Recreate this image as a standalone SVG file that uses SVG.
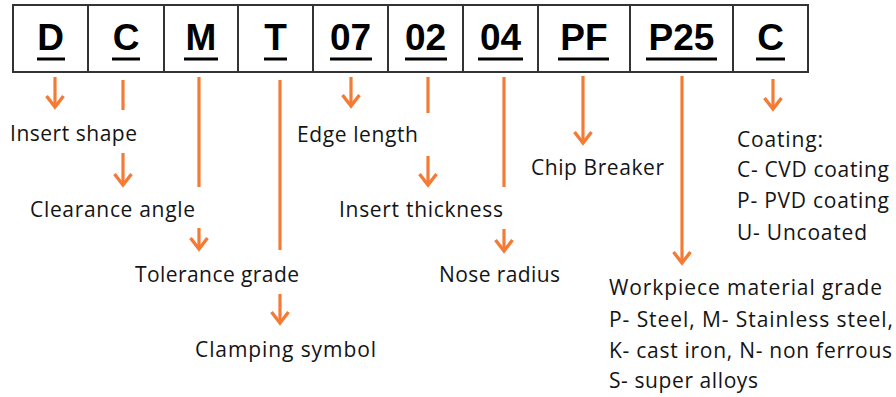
<svg xmlns="http://www.w3.org/2000/svg" width="896" height="397" viewBox="0 0 896 397">
<defs>
<style>
.cell{fill:#fff;stroke:#333;stroke-width:2}
.code{font-family:"Liberation Sans",Arial,sans-serif;font-weight:bold;font-size:37px;fill:#000;text-anchor:middle}
.ul{stroke:#000;stroke-width:3}
.lbl{font-family:"Open Sans",Lato,sans-serif;font-size:21px;fill:#141414}
.ln{stroke:#F47B36;stroke-width:3.2;fill:none}
.ar{stroke:#F47B36;stroke-width:3.2;fill:none;marker-end:url(#head)}
</style>
<marker id="head" markerUnits="userSpaceOnUse" orient="auto" refX="0" refY="0" markerWidth="20" markerHeight="20" overflow="visible">
<path d="M-11,-8.5 L0,0 L-11,8.5" fill="none" stroke="#F47B36" stroke-width="3.4"/>
</marker>
</defs>
<rect x="0" y="0" width="896" height="397" fill="#fff"/>
<g id="codes">
<g id="cell-D"><rect class="cell" x="13" y="5" width="75" height="67"/><text class="code" x="50.5" y="50">D</text><line class="ul" x1="37" y1="59" x2="65" y2="59"/></g>
<g id="cell-C1"><rect class="cell" x="88" y="5" width="76" height="67"/><text class="code" x="126" y="50">C</text><line class="ul" x1="112" y1="59" x2="140" y2="59"/></g>
<g id="cell-M"><rect class="cell" x="164" y="5" width="74" height="67"/><text class="code" x="201" y="50">M</text><line class="ul" x1="184" y1="59" x2="218" y2="59"/></g>
<g id="cell-T"><rect class="cell" x="238" y="5" width="75" height="67"/><text class="code" x="275.5" y="50">T</text><line class="ul" x1="264" y1="59" x2="287" y2="59"/></g>
<g id="cell-07"><rect class="cell" x="313" y="5" width="75" height="67"/><text class="code" x="350.5" y="50">07</text><line class="ul" x1="330" y1="59" x2="372" y2="59"/></g>
<g id="cell-02"><rect class="cell" x="388" y="5" width="75" height="67"/><text class="code" x="425.5" y="50">02</text><line class="ul" x1="405" y1="59" x2="447" y2="59"/></g>
<g id="cell-04"><rect class="cell" x="463" y="5" width="75" height="67"/><text class="code" x="500.5" y="50">04</text><line class="ul" x1="478" y1="59" x2="523" y2="59"/></g>
<g id="cell-PF"><rect class="cell" x="538" y="5" width="92" height="67"/><text class="code" x="584" y="50">PF</text><line class="ul" x1="558" y1="59" x2="609" y2="59"/></g>
<g id="cell-P25"><rect class="cell" x="630" y="5" width="103" height="67"/><text class="code" x="681.5" y="50">P25</text><line class="ul" x1="646" y1="59" x2="717" y2="59"/></g>
<g id="cell-C2"><rect class="cell" x="733" y="5" width="75" height="67"/><text class="code" x="770.5" y="50">C</text><line class="ul" x1="756" y1="59" x2="785" y2="59"/></g>
</g>
<g id="connectors">
<line class="ar" x1="55" y1="77" x2="55" y2="107"/>
<line class="ln" x1="123" y1="80" x2="123" y2="110"/>
<line class="ar" x1="123" y1="153" x2="123" y2="185"/>
<line class="ln" x1="199" y1="77" x2="199" y2="187"/>
<line class="ar" x1="199" y1="228" x2="199" y2="249"/>
<line class="ln" x1="280" y1="80" x2="280" y2="250"/>
<line class="ar" x1="280" y1="294" x2="280" y2="323"/>
<line class="ar" x1="351" y1="77" x2="351" y2="106"/>
<line class="ln" x1="428" y1="77" x2="428" y2="113"/>
<line class="ar" x1="428" y1="156" x2="428" y2="185"/>
<line class="ln" x1="504" y1="77" x2="504" y2="187"/>
<line class="ar" x1="504" y1="229" x2="504" y2="251"/>
<line class="ar" x1="583" y1="76" x2="583" y2="143"/>
<line class="ar" x1="682" y1="76" x2="682" y2="263"/>
<line class="ar" x1="773" y1="79" x2="773" y2="109"/>
</g>
<g id="labels">
<g id="lbl-shape"><text class="lbl" x="10" y="141" textLength="127">Insert shape</text></g>
<g id="lbl-clearance"><text class="lbl" x="30" y="217" textLength="165">Clearance angle</text></g>
<g id="lbl-tolerance"><text class="lbl" x="135" y="282" textLength="164">Tolerance grade</text></g>
<g id="lbl-clamping"><text class="lbl" x="195" y="357" textLength="181">Clamping symbol</text></g>
<g id="lbl-edge"><text class="lbl" x="297" y="142" textLength="121">Edge length</text></g>
<g id="lbl-thickness"><text class="lbl" x="339" y="217" textLength="164">Insert thickness</text></g>
<g id="lbl-nose"><text class="lbl" x="439" y="282" textLength="121">Nose radius</text></g>
<g id="lbl-chip"><text class="lbl" x="531" y="175" textLength="133">Chip Breaker</text></g>
<g id="lbl-coating">
<text class="lbl" x="737" y="147" textLength="86">Coating:</text>
<text class="lbl" x="737" y="177" textLength="152">C- CVD coating</text>
<text class="lbl" x="737" y="208" textLength="152">P- PVD coating</text>
<text class="lbl" x="737" y="240" textLength="130">U- Uncoated</text>
</g>
<g id="lbl-workpiece">
<text class="lbl" x="609" y="295" textLength="273">Workpiece material grade</text>
<text class="lbl" x="609" y="327" textLength="284">P- Steel, M- Stainless steel,</text>
<text class="lbl" x="609" y="358" textLength="283">K- cast iron, N- non ferrous</text>
<text class="lbl" x="609" y="388" textLength="149">S- super alloys</text>
</g>
</g>
</svg>
